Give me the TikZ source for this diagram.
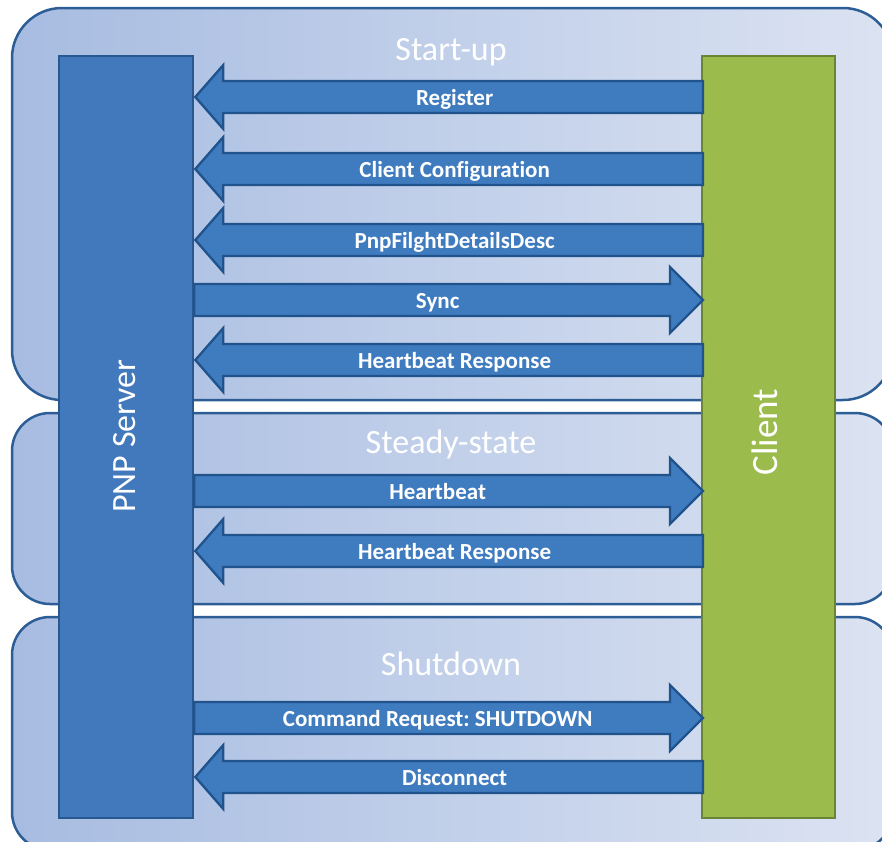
\documentclass[tikz,border=0pt]{standalone}
\usepackage{fontspec}
\setmainfont[Ligatures=CommonOff]{Carlito}
\usetikzlibrary{calc}
\frenchspacing
\definecolor{panelL}{HTML}{A7BCE1}
\definecolor{panelR}{HTML}{DCE3F2}
\definecolor{panelB}{HTML}{2C5D95}
\definecolor{srvF}{HTML}{4179BC}
\definecolor{srvB}{HTML}{285890}
\definecolor{cliF}{HTML}{9BBB4D}
\definecolor{cliB}{HTML}{6A8635}
\definecolor{arrF}{HTML}{3F7BBF}
\definecolor{arrB}{HTML}{20538C}
\tikzset{
  panel/.style={draw=panelB, line width=2.5pt, left color=panelL, right color=panelR},
  actor/.style={line width=2.3pt, inner sep=0pt, anchor=north west},
  msg/.style={fill=arrF, draw=arrB, line width=2.3pt},
  lbl/.style={text=white, font=\bfseries\fontsize{23}{27}\selectfont, inner sep=0pt, text height=15pt, text depth=0pt},
  ttl/.style={text=white, font=\fontsize{34}{40}\selectfont, inner sep=0pt, text height=21pt, text depth=0pt},
  vtxt/.style={text=white, rotate=90, inner sep=0pt, text height=21pt, text depth=0pt},
}
\newcommand\msgL[3]{%
  \coordinate (#1s) at (srv.east |- 0,#2);
  \coordinate (#1c) at (cli.west |- 0,#2);
  \draw[msg] ($(#1c)+(2,-16)$) -- ($(#1s)+(29,-16)$) -- ($(#1s)+(29,-32)$) -- ($(#1s)+(1,0)$)
     -- ($(#1s)+(29,32)$) -- ($(#1s)+(29,16)$) -- ($(#1c)+(2,16)$) -- cycle;
  \node[lbl] (#1) at ($(#1s)!0.5!(#1c)+(7,1)$) {#3};}
\newcommand\msgR[3]{%
  \coordinate (#1s) at (srv.east |- 0,#2);
  \coordinate (#1c) at (cli.west |- 0,#2);
  \draw[msg] ($(#1s)+(0,-16)$) -- ($(#1c)+(-31,-16)$) -- ($(#1c)+(-31,-33)$) -- ($(#1c)+(2,0)$)
     -- ($(#1c)+(-31,33)$) -- ($(#1c)+(-31,16)$) -- ($(#1s)+(0,16)$) -- cycle;
  \node[lbl] (#1) at ($(#1s)!0.5!(#1c)+(-10,1)$) {#3};}
\begin{document}
\begin{tikzpicture}[x=1pt,y=-1pt]
\useasboundingbox (0,0) rectangle (882,841);
% phase panels
\draw[panel, rounded corners=50pt] (12,8) rectangle (893,400);
\draw[panel, rounded corners=38pt] (12,413) rectangle (893,604);
\draw[panel, rounded corners=38pt] (12,617) rectangle (893,850);
% actors
\node[actor, draw=srvB, fill=srvF, minimum width=134pt, minimum height=762pt] (srv) at (58,55) {};
\node[actor, draw=cliB, fill=cliF, minimum width=133pt, minimum height=762pt] (cli) at (701,55) {};
\node[vtxt, font=\fontsize{34}{40}\selectfont] (srvt) at (125,436) {PNP Server};
\node[vtxt, font=\fontsize{37}{42}\selectfont] (clit) at (767,432) {Client};
% titles
\node[ttl] (t1) at (451,50) {Start-up};
\node[ttl] (t2) at (451,443) {Steady-state};
\node[ttl] (t3) at (451,665) {Shutdown};
% messages
\msgL{m1}{97}{Register}
\msgL{m2}{169}{Client Configuration}
\msgL{m3}{240}{PnpFilghtDetailsDesc}
\msgR{m4}{300}{Sync}
\msgL{m5}{360}{Heartbeat Response}
\msgR{m6}{491}{Heartbeat}
\msgL{m7}{551}{Heartbeat Response}
\msgR{m8}{718}{Command Request: SHUTDOWN}
\msgL{m9}{777}{Disconnect}
\end{tikzpicture}
\end{document}
